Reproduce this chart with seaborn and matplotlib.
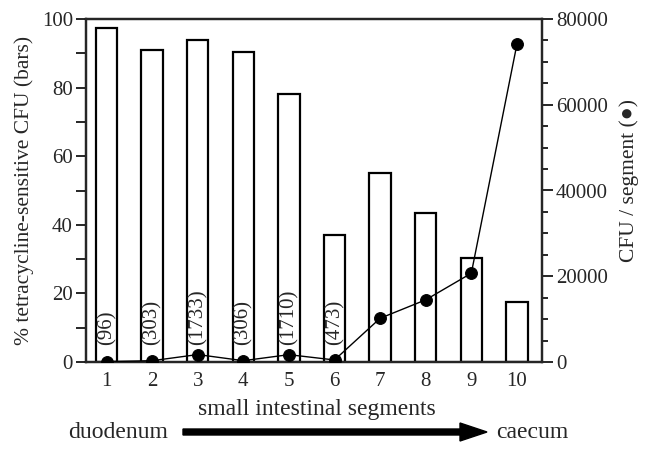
import matplotlib
matplotlib.use("Agg")
import matplotlib.pyplot as plt
import matplotlib.patches as mpatches
import seaborn as sns
import pandas as pd
from matplotlib.ticker import MultipleLocator

segments = [1, 2, 3, 4, 5, 6, 7, 8, 9, 10]
pct_sensitive = [97.4, 91.1, 94.0, 90.3, 78.1, 37.0, 55.2, 43.3, 30.2, 17.6]
cfu_segments = [1, 2, 3, 4, 5, 6, 7, 8, 9, 10]
cfu_values = [96, 303, 1733, 306, 1710, 473, 10200, 14500, 20700, 74100]
annot_labels = ["(96)", "(303)", "(1733)", "(306)", "(1710)", "(473)"]

sns.set_theme(style="ticks")
plt.rcParams['font.family'] = ['Liberation Serif', 'DejaVu Sans']
plt.rcParams['axes.linewidth'] = 1.6

W, H = 651, 457
fig = plt.figure(figsize=(W/100, H/100), dpi=100)
L, R, T, B = 86, 542, 19, 362
ax = fig.add_axes([L/W, 1-B/H, (R-L)/W, (B-T)/H])

def ax_x(px):
    return (px - L) / (R - L)

def ax_y(py):
    return (B - py) / (B - T)

df_bar = pd.DataFrame({"segment": segments, "pct": pct_sensitive})
sns.barplot(data=df_bar, x="segment", y="pct", native_scale=True, width=0.47,
            color="white", edgecolor="black", linewidth=1.6, ax=ax, zorder=2)
ax.set_xlim(0.55, 10.55)
ax.set_ylim(0, 100)
ax.yaxis.set_major_locator(MultipleLocator(20))
ax.yaxis.set_minor_locator(MultipleLocator(10))
ax.set_xticks(segments)
ax.set_xticklabels([str(s) for s in segments])
ax.tick_params(axis='x', length=0, labelsize=15, pad=7)
ax.tick_params(axis='y', which='major', length=7.5, width=1.4, labelsize=15, pad=2)
ax.tick_params(axis='y', which='minor', length=7.5, width=1.4)
ax.set_xlabel("small intestinal segments", fontsize=17)
ax.xaxis.set_label_coords(ax_x(317), ax_y(409))
ax.xaxis.label.set_va('center')
ax.set_ylabel("% tetracycline-sensitive CFU (bars)", fontsize=15.5)
ax.yaxis.set_label_coords(ax_x(24), 0.5)
ax.yaxis.label.set_va('center')
for sp in ax.spines.values():
    sp.set_visible(True)
    sp.set_color("black")
ax.grid(False)

ax2 = ax.twinx()
df_line = pd.DataFrame({"segment": cfu_segments, "cfu": cfu_values})
sns.lineplot(data=df_line, x="segment", y="cfu", ax=ax2, color="black",
             linewidth=1.0, marker="o", markersize=8.5, markeredgecolor="black",
             markerfacecolor="black", zorder=3)
ax2.set_ylim(0, 80000)
ax2.set_xlim(0.55, 10.55)
ax2.yaxis.set_major_locator(MultipleLocator(20000))
ax2.yaxis.set_minor_locator(MultipleLocator(5000))
ax2.tick_params(axis='y', which='major', length=8, width=1.4, labelsize=15, pad=2)
ax2.tick_params(axis='y', which='minor', length=4.5, width=1.4)
ax2.set_ylabel("CFU / segment (●)", fontsize=15.5)
ax2.yaxis.set_label_coords(ax_x(629), ax_y(180))
ax2.yaxis.label.set_va('center')
ax2.set_xlabel("")
ax2.grid(False)

for s, lab in zip(cfu_segments, annot_labels):
    ax.text(s, 5, lab, rotation=90, ha='center', va='bottom', fontsize=15, zorder=4)

fig.text(68/W, 1-433/H, "duodenum", fontsize=17, ha='left', va='center')
fig.text(496/W, 1-433/H, "caecum", fontsize=17, ha='left', va='center')
fig.patches.append(mpatches.FancyArrow(
    183/W, 1-432/H, (460-183)/W, 0, width=6/H, head_width=18/H,
    head_length=27/W, length_includes_head=False, color="black",
    transform=fig.transFigure, figure=fig))

fig.savefig("out.png", dpi=100)
